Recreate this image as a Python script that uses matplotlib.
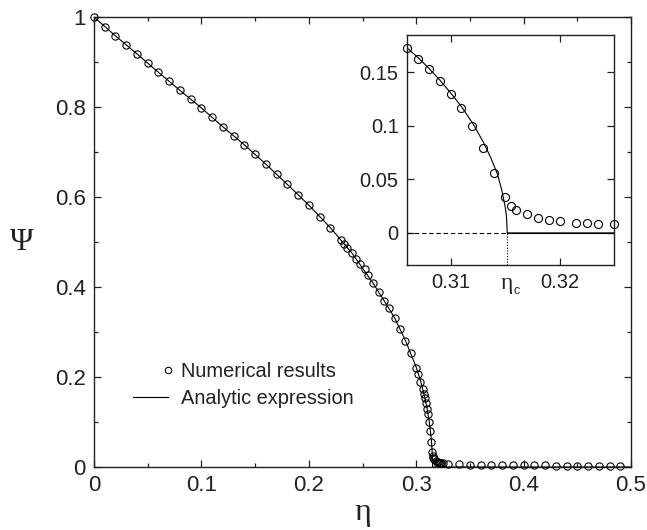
import numpy as np
import matplotlib
matplotlib.use("Agg")
import matplotlib.pyplot as plt
from matplotlib.ticker import FuncFormatter, MultipleLocator, FixedLocator
from matplotlib.lines import Line2D
import matplotlib.transforms as mtransforms

plt.rcParams['font.family'] = ['Liberation Sans', 'DejaVu Sans']

# ---------------- data ----------------
eta_num = [0.00, 0.01, 0.02, 0.03, 0.04, 0.05, 0.06, 0.07, 0.08, 0.09,
           0.10, 0.11, 0.12, 0.13, 0.14, 0.15, 0.16, 0.17, 0.18, 0.19,
           0.20, 0.21, 0.22, 0.230, 0.233, 0.236, 0.240, 0.244, 0.248, 0.252,
           0.255, 0.260, 0.265, 0.270, 0.275, 0.280, 0.285, 0.290, 0.295, 0.300,
           0.302, 0.304, 0.306, 0.307, 0.308, 0.309, 0.310, 0.311, 0.312, 0.313,
           0.314, 0.315, 0.3155, 0.316, 0.317, 0.318, 0.319, 0.320, 0.3215, 0.3225,
           0.3235, 0.325, 0.33, 0.34, 0.35, 0.36, 0.37, 0.38, 0.39, 0.40,
           0.41, 0.42, 0.43, 0.44, 0.45, 0.46, 0.47, 0.48, 0.49]
psi_num = [1.000, 0.977, 0.958, 0.938, 0.918, 0.897, 0.877, 0.857, 0.837, 0.817,
           0.798, 0.777, 0.756, 0.736, 0.716, 0.695, 0.673, 0.651, 0.628, 0.604,
           0.582, 0.556, 0.532, 0.504, 0.495, 0.486, 0.476, 0.463, 0.452, 0.439,
           0.427, 0.408, 0.390, 0.370, 0.353, 0.331, 0.306, 0.281, 0.253, 0.219,
           0.207, 0.190, 0.173, 0.163, 0.153, 0.142, 0.130, 0.117, 0.100, 0.079,
           0.056, 0.034, 0.025, 0.021, 0.0175, 0.0135, 0.012, 0.0107, 0.0094, 0.0088,
           0.0082, 0.0079, 0.007, 0.006, 0.0055, 0.005, 0.0045, 0.0042, 0.004, 0.0038,
           0.0036, 0.0034, 0.0032, 0.003, 0.0029, 0.0028, 0.0027, 0.0026, 0.0025]

eta_c = 0.3152

eta_ana = [0.00, 0.02, 0.04, 0.06, 0.08, 0.10, 0.12, 0.14, 0.16, 0.18,
           0.20, 0.22, 0.24, 0.26, 0.27, 0.28, 0.29, 0.30, 0.304, 0.306,
           0.307, 0.308, 0.309, 0.310, 0.311, 0.312, 0.313, 0.3137, 0.3143, 0.3147,
           0.3150, 0.3151, 0.31515, 0.3152, 0.40, 0.50]
psi_ana = [1.000, 0.958, 0.918, 0.877, 0.837, 0.798, 0.756, 0.716, 0.673, 0.628,
           0.582, 0.532, 0.476, 0.408, 0.370, 0.331, 0.281, 0.222, 0.192, 0.173,
           0.164, 0.154, 0.143, 0.131, 0.118, 0.103, 0.085, 0.070, 0.055, 0.040,
           0.025, 0.018, 0.012, 0.0, 0.0, 0.0]

main_xticks = [0, 0.1, 0.2, 0.3, 0.4, 0.5]
main_yticks = [0, 0.2, 0.4, 0.6, 0.8, 1.0]
inset_xlim = (0.306, 0.325)
inset_ylim = (-0.03, 0.185)
inset_xticks = [0.31, 0.32]
inset_yticks = [0, 0.05, 0.1, 0.15]

INK = '#222222'

# ---------------- figure ----------------
fig = plt.figure(figsize=(6.47, 5.30), dpi=100)
ax = fig.add_axes([94/647, 1-467/530, 537/647, 450/530])

fmt = FuncFormatter(lambda v, p: '%g' % round(v, 4))

ax.plot(eta_ana, psi_ana, color='black', lw=0.8, zorder=2)
ax.plot(eta_num, psi_num, linestyle='none', marker='o', markersize=5.2,
        markerfacecolor='none', markeredgecolor='black', markeredgewidth=0.8,
        zorder=3, clip_on=False)

ax.set_xlim(0, 0.5)
ax.set_ylim(0, 1)
ax.xaxis.set_major_locator(FixedLocator(main_xticks))
ax.yaxis.set_major_locator(FixedLocator(main_yticks))
ax.xaxis.set_minor_locator(MultipleLocator(0.05))
ax.yaxis.set_minor_locator(MultipleLocator(0.1))
ax.xaxis.set_major_formatter(fmt)
ax.yaxis.set_major_formatter(fmt)
ax.tick_params(which='both', direction='in', top=True, right=True,
               width=0.9, colors=INK, labelcolor=INK)
ax.tick_params(which='major', length=5, labelsize=16, pad=6)
ax.tick_params(which='minor', length=3)
for s in ax.spines.values():
    s.set_linewidth(1.0)
    s.set_color(INK)

ax.set_xlabel('η', family=['Liberation Serif', 'DejaVu Serif'], fontsize=23,
              labelpad=1, color=INK)
ax.set_ylabel('Ψ', family=['Liberation Serif', 'DejaVu Serif'], fontsize=23,
              rotation=0, labelpad=24, va='center', color=INK)


class RightMarkerHandler:
    """Legend key with a single open circle at the right end of the key."""
    def legend_artist(self, legend, orig_handle, fontsize, handlebox):
        x0, y0 = handlebox.xdescent, handlebox.ydescent
        w, h = handlebox.width, handlebox.height
        m = Line2D([w - x0], [h / 2 - y0], linestyle='none', marker='o',
                   markersize=orig_handle.get_markersize(),
                   markerfacecolor='none', markeredgecolor='black',
                   markeredgewidth=orig_handle.get_markeredgewidth(),
                   transform=handlebox.get_transform())
        handlebox.add_artist(m)
        return m


h_num = Line2D([], [], linestyle='none', marker='o', markersize=4.6,
               markerfacecolor='none', markeredgecolor='black',
               markeredgewidth=0.8)
h_ana = Line2D([], [], color='black', lw=0.8)
leg = ax.legend([h_num, h_ana], ['Numerical results', 'Analytic expression'],
                loc='upper left', bbox_to_anchor=(0.073, 0.234),
                frameon=False, fontsize=14.4, handlelength=1.75,
                handletextpad=0.65, labelspacing=0.4, borderaxespad=0,
                borderpad=0,
                handler_map={h_num: RightMarkerHandler()})
for t in leg.get_texts():
    t.set_color(INK)

# ---------------- inset ----------------
ai = fig.add_axes([407/647, 1-265/530, 207/647, 230/530])
ai.set_facecolor('white')
eta_arr = np.asarray(eta_num)
psi_arr = np.asarray(psi_num)
sel = (eta_arr >= inset_xlim[0] - 1e-9) & (eta_arr <= inset_xlim[1] + 1e-9)
ai.plot(eta_ana, psi_ana, color='black', lw=0.8, zorder=2)
ai.plot(eta_arr[sel], psi_arr[sel], linestyle='none', marker='o',
        markersize=5.8, markerfacecolor='none', markeredgecolor='black',
        markeredgewidth=0.8, zorder=3, clip_on=False)
ai.set_xlim(*inset_xlim)
ai.set_ylim(*inset_ylim)
ai.plot([inset_xlim[0], eta_c], [0, 0], color='black', lw=0.8,
        ls=(0, (4, 2.5)))
ai.plot([eta_c, inset_xlim[1]], [0, 0], color='black', lw=0.8)
ai.plot([eta_c, eta_c], [inset_ylim[0], 0], color='black', lw=0.8,
        ls=(0, (1, 1.5)))
ai.xaxis.set_major_locator(FixedLocator(inset_xticks))
ai.yaxis.set_major_locator(FixedLocator(inset_yticks))
ai.xaxis.set_major_formatter(fmt)
ai.yaxis.set_major_formatter(fmt)
ai.tick_params(which='both', direction='in', top=True, right=True,
               width=0.9, length=5, labelsize=14.5, pad=6,
               colors=INK, labelcolor=INK)
for s in ai.spines.values():
    s.set_linewidth(1.0)
    s.set_color(INK)

tr = ai.get_xaxis_transform()
ai.text(eta_c, -0.035, 'η', transform=tr, ha='center', va='top',
        family=['Liberation Serif', 'DejaVu Serif'], fontsize=17, color=INK)
ai.text(eta_c, -0.035, 'c',
        transform=mtransforms.offset_copy(tr, fig=fig, x=6, y=-12,
                                          units='dots'),
        ha='left', va='top', fontsize=9, color=INK)

fig.savefig('out.png', dpi=100)
